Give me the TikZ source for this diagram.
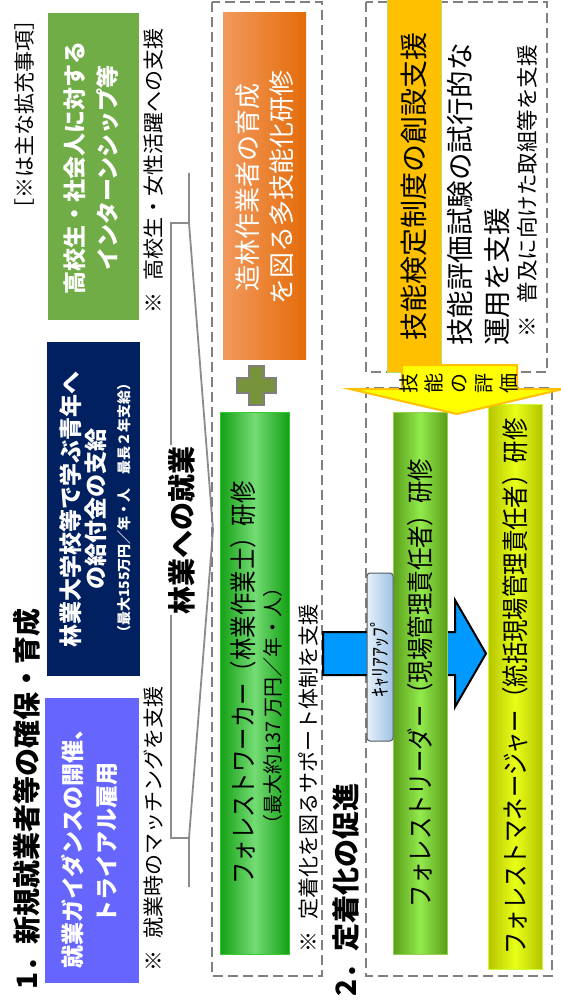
\documentclass[tikz,border=0pt]{standalone}
\usepackage{fontspec}
\setmainfont{Noto Sans CJK JP}
\newfontfamily\condfont{Noto Sans CJK JP}[FakeStretch=0.83]
\definecolor{purp}{HTML}{6666FF}
\definecolor{navy}{HTML}{002060}
\definecolor{grn}{HTML}{70AD47}
\definecolor{orgL}{HTML}{F29A5E}
\definecolor{orgD}{HTML}{E46C0A}
\definecolor{wkD}{HTML}{14A014}
\definecolor{wkL}{HTML}{74DC74}
\definecolor{wkB}{HTML}{33CC33}
\definecolor{ldD}{HTML}{5A9E1A}
\definecolor{ldL}{HTML}{92EA4C}
\definecolor{ldB}{HTML}{92D050}
\definecolor{mgD}{HTML}{B5C400}
\definecolor{mgL}{HTML}{E8FF18}
\definecolor{mgB}{HTML}{CCFF33}
\definecolor{skill}{HTML}{FFC000}
\definecolor{skillB}{HTML}{B4DE64}
\definecolor{yel}{HTML}{FFFF00}
\definecolor{yelB}{HTML}{FFC000}
\definecolor{cyanA}{HTML}{0099FF}
\definecolor{pillL}{HTML}{E6F0FA}
\definecolor{pillD}{HTML}{9DC3E6}
\definecolor{pillB}{HTML}{595959}
\definecolor{plusF}{HTML}{77933C}
\definecolor{plusB}{HTML}{7F7F7F}
\definecolor{lineG}{HTML}{8C8C8C}
\definecolor{dashG}{HTML}{808080}
\tikzset{
  vtext/.style={rotate=90, inner sep=0pt, align=center},
  fs/.style 2 args={font=\fontsize{#1}{#2}\selectfont},
  fsb/.style 2 args={font=\fontsize{#1}{#2}\selectfont\bfseries},
  fsc/.style 2 args={font=\condfont\fontsize{#1}{#2}\selectfont},
  box/.style 2 args={draw=none, inner sep=0pt, minimum width=#1, minimum height=#2},
  dashbox/.style={draw=dashG, line width=1.6pt, dash pattern=on 10pt off 5pt},
  funnel/.style={draw=lineG, line width=1.8pt, line join=miter},
}
\begin{document}
\begin{tikzpicture}[x=1pt, y=-1pt]
\useasboundingbox (0,0) rectangle (561,1003);
\fill[white] (0,0) rectangle (561,1003);

% titles
\node[vtext, fsb={28}{32}, anchor=west] (t1) at (27,990) {1．新規就業者等の確保・育成};
\node[vtext, fs={21}{24}] (legend) at (25,114) {［※は主な拡充事項］};

% section 1 boxes
\node[box={94pt}{285pt}, fill=purp] (guid) at (92,840.5) {};
\node[vtext, fsb={23}{34}, text=white] (guidtxt) at (90,843) {就業ガイダンスの開催、\\トライアル雇用};

\node[box={93pt}{334pt}, fill=navy] (kyufu) at (93.5,509) {};
\node[vtext, fsb={23}{26}, text=white] (kyufu1) at (71,509) {林業大学校等で学ぶ青年へ};
\node[vtext, fsb={23}{26}, text=white] (kyufu2) at (96,509) {の給付金の支給};
\node[vtext, fsb={14}{16}, text=white] (kyufu3) at (124,508) {（最大155万円／年・人　最長２年支給）};

\node[box={91pt}{307pt}, fill=grn] (intern) at (93.5,166.5) {};
\node[vtext, fsb={23}{33}, text=white] (interntxt) at (91,168) {高校生・社会人に対する\\インターンシップ等};

\node[vtext, fs={21}{24}, anchor=west] (note1) at (154,972) {※\hspace{0.6em}就業時のマッチングを支援};
\node[vtext, fs={21}{24}, anchor=west] (note2) at (154,314) {※\hspace{0.6em}高校生・女性活躍への支援};

% funnel
\draw[funnel] (189,173) -- (189,223) -- (213,530) -- (189,838) -- (189,887);
\draw[funnel] (189,223) -- (171,223) -- (171,838) -- (189,838);
\node[vtext, fsb={28}{32}, fill=white, inner sep=1pt] (shugyo) at (182,530) {林業への就業};

% dashed boxes
\draw[dashbox] (212,2) rectangle (322,976);
\draw[dashbox] (366,2) rectangle (547,372);
\draw[dashbox] (366,388) rectangle (552,976);

% orange box + plus
\node[box={83pt}{346pt}, left color=orgL, right color=orgD] (zorin) at (264.5,186) {};
\node[vtext, fs={26}{34}, text=white] (zorintxt) at (265,187) {造林作業者の育成\\を図る多技能化研修};
\draw[fill=plusF, draw=plusB, line width=2pt] (249,366) -- (264,366) -- (264,378) -- (276,378) -- (276,393) -- (264,393) -- (264,405) -- (249,405) -- (249,393) -- (237,393) -- (237,378) -- (249,378) -- cycle;

% forest worker
\node[box={69pt}{542pt}, left color=wkD, right color=wkD, middle color=wkL, draw=wkB, line width=1pt] (worker) at (254.5,683) {};
\node[vtext, fsc={27}{30}] (workertxt) at (243,683) {フォレストワーカー（林業作業士）研修};
\node[vtext, fs={20}{22}] (workersub) at (273,706) {（最大約137 万円／年・人）};
\node[vtext, fs={21}{24}, anchor=west] (note3) at (308,953) {※\hspace{0.6em}定着化を図るサポート体制を支援};

\node[vtext, fsb={28}{32}, anchor=west] (t2) at (346,997) {2．定着化の促進};

% skill box
\node[box={54pt}{372pt}, fill=skill, draw=skillB, line width=1pt] (skillbox) at (414,186) {};
\node[vtext, fs={28}{30}] (skilltxt) at (414,186) {技能検定制度の創設支援};
\node[vtext, fs={27.5}{30}, anchor=west] (skill2) at (460,346) {技能評価試験の試行的な};
\node[vtext, fs={27.5}{30}, anchor=west] (skill3) at (497,346) {運用を支援};
\node[vtext, fs={21.5}{24}, anchor=west] (skill4) at (527,338) {※\hspace{0.6em}普及に向けた取組等を支援};

% career-up arrow
\draw[fill=cyanA, draw=black, line width=2pt, line join=miter] (323,632) -- (455,632) -- (455,600) -- (486,653.5) -- (455,707) -- (455,675) -- (323,675) -- cycle;

% leader & manager bars
\node[box={54pt}{542pt}, left color=ldD, right color=ldD, middle color=ldL, draw=ldB, line width=1pt] (leader) at (420,683) {};
\node[vtext, fsc={27}{30}] (leadertxt) at (420,683) {フォレストリーダー（現場管理責任者）研修};
\node[box={54pt}{565pt}, left color=mgD, right color=mgD, middle color=mgL, draw=mgB, line width=1pt] (manager) at (515,686.5) {};
\node[vtext, fsc={27}{30}] (managertxt) at (515,686.5) {フォレストマネージャー（統括現場管理責任者）研修};

% pill
\node[box={26pt}{168pt}, left color=pillL, right color=pillD, draw=pillB, line width=1pt, rounded corners=3pt] (pill) at (380,657) {};
\node[vtext, fs={20}{22}] (pilltxt) at (380,657) {ｷｬﾘｱｱｯﾌﾟ};

% skill evaluation arrow
\draw[fill=yel, draw=yelB, line width=2pt, line join=miter] (402,365) -- (517,365) -- (517,389) -- (563,389) -- (457,414) -- (350,389) -- (402,389) -- cycle;
\node[vtext, fs={20}{25}] (hyoka) at (459,383) {技\\能\\の\\評\\価};

\end{tikzpicture}
\end{document}
